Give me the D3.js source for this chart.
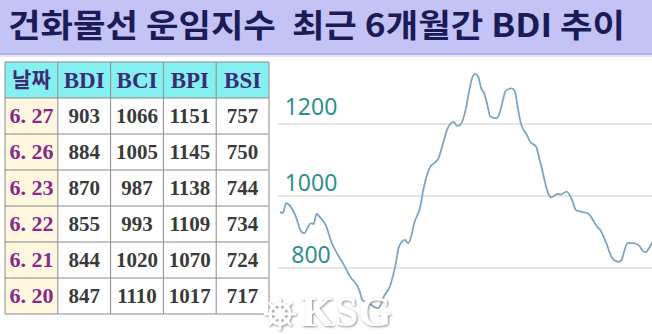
<!DOCTYPE html>
<html>
<head>
<meta charset="utf-8">
<script src="https://cdn.jsdelivr.net/npm/d3@7"></script>
<style>
  html, body { margin: 0; padding: 0; background: #ffffff; }
  svg { display: block; }
</style>
</head>
<body>
<svg id="chart" width="652" height="334"></svg>
<script>
// ---------- data ----------
const title = "건화물선 운임지수  최근 6개월간 BDI 추이";
const tableHeader = ["날짜", "BDI", "BCI", "BPI", "BSI"];
const dates = ["6. 27", "6. 26", "6. 23", "6. 22", "6. 21", "6. 20"];
const bdiTable = [903, 884, 870, 855, 844, 847];
const bciTable = [1066, 1005, 987, 993, 1020, 1110];
const bpiTable = [1151, 1145, 1138, 1109, 1070, 1017];
const bsiTable = [757, 750, 744, 734, 724, 717];

// BDI trend over ~6 months (trading-day index, value)
const days = [0,1,2,3,5,7,8,9,10,11,12,13,15,17,19,21,23,26,27,28,30,32,33,34,36,37,38,39,41,42,43,44,46,47,49,52,53,55,57,58,59,61,62,63,64,65,66,67,68,69,71,72,73,74,76,77,78,79,81,82,84,85,86,87,88,89,91,92,94,96,97,99,101,102,104,105,107,109,111,112,113,114,116,118,119,120,121,122,123,124];
const bdi  = [956,953,980,975,947,901,896,910,924,922,950,942,919,869,836,808,776,739,711,706,697,688,697,720,748,776,813,859,878,869,887,924,970,1017,1077,1105,1132,1188,1206,1195,1197,1244,1290,1327,1339,1331,1299,1285,1253,1220,1216,1230,1262,1292,1299,1292,1244,1202,1169,1151,1137,1105,1072,1035,1006,996,1006,1004,1012,984,961,956,952,942,915,906,869,827,817,822,850,869,869,860,847,844,855,870,884,903];
const yTicks = [800, 1000, 1200];

// ---------- drawing ----------
const svg = d3.select("#chart");

// title band
svg.append("rect").attr("x", 0).attr("y", 0).attr("width", 652).attr("height", 53)
  .attr("fill", "#c3c3f5");
svg.append("rect").attr("x", 0).attr("y", 53).attr("width", 652).attr("height", 2)
  .attr("fill", "#b6b6e6");
svg.append("rect").attr("x", 0).attr("y", 55).attr("width", 652).attr("height", 2)
  .attr("fill", "#e4e4fa");
svg.append("text")
  .attr("x", 8).attr("y", 37)
  .attr("textLength", 617).attr("lengthAdjust", "spacingAndGlyphs")
  .attr("font-family", "'Noto Sans CJK KR', 'Noto Sans', sans-serif")
  .attr("font-weight", 700).attr("font-size", 32)
  .attr("fill", "#1b1b57")
  .style("white-space", "pre")
  .text(title);

// ---------- line chart ----------
const x = d3.scaleLinear().domain([0, 122]).range([280, 652]);
const y = d3.scaleLinear().domain([800, 1200]).range([268, 124]);

const chart = svg.append("g");
chart.selectAll("line.grid").data(yTicks).join("line")
  .attr("class", "grid")
  .attr("x1", 278).attr("x2", 652)
  .attr("y1", d => y(d)).attr("y2", d => y(d))
  .attr("stroke", "#dedede").attr("stroke-width", 1.3);

chart.selectAll("text.tick").data(yTicks).join("text")
  .attr("class", "tick")
  .attr("x", 311)
  .attr("y", d => y(d) - (d === 1200 ? 9 : 5))
  .attr("text-anchor", "middle")
  .attr("font-family", "'Noto Sans', 'Open Sans', sans-serif")
  .attr("font-size", 23)
  .attr("fill", "#2f8f8f")
  .text(d => d);

const series = days.map((d, i) => ({ d, v: bdi[i] }));
const lineGen = d3.line().x(p => x(p.d)).y(p => y(p.v)).curve(d3.curveMonotoneX);
chart.append("path")
  .datum(series)
  .attr("d", lineGen)
  .attr("fill", "none")
  .attr("stroke", "#7ea4c4")
  .attr("stroke-width", 1.8)
  .attr("stroke-linejoin", "round");

// ---------- table ----------
const rowsData = dates.map((dt, i) => [dt, bdiTable[i], bciTable[i], bpiTable[i], bsiTable[i]]);
const colX = d3.scaleBand().domain(d3.range(5)).range([5, 269]).padding(0);
const rowY = d3.scaleBand().domain(d3.range(7)).range([62, 314]).padding(0);

const table = svg.append("g");
// header cells
table.selectAll("rect.hdr").data(tableHeader).join("rect")
  .attr("class", "hdr")
  .attr("x", (d, i) => colX(i)).attr("y", rowY(0))
  .attr("width", colX.bandwidth()).attr("height", rowY.bandwidth())
  .attr("fill", "#85f0f0");
// date column cells
table.selectAll("rect.date").data(dates).join("rect")
  .attr("class", "date")
  .attr("x", colX(0)).attr("y", (d, i) => rowY(i + 1))
  .attr("width", colX.bandwidth()).attr("height", rowY.bandwidth())
  .attr("fill", "#fff6df");
// grid lines
table.selectAll("line.h").data(d3.range(8)).join("line")
  .attr("class", "h")
  .attr("x1", 5).attr("x2", 269)
  .attr("y1", i => 62 + i * rowY.step()).attr("y2", i => 62 + i * rowY.step())
  .attr("stroke", "#8a8a8a").attr("stroke-width", 1);
table.selectAll("line.v").data(d3.range(6)).join("line")
  .attr("class", "v")
  .attr("x1", i => 5 + i * colX.step()).attr("x2", i => 5 + i * colX.step())
  .attr("y1", 62).attr("y2", 314)
  .attr("stroke", "#8a8a8a").attr("stroke-width", 1);

// header text
table.selectAll("text.hdr").data(tableHeader).join("text")
  .attr("class", "hdr")
  .attr("x", (d, i) => colX(i) + colX.bandwidth() / 2)
  .attr("y", (d, i) => rowY(0) + rowY.bandwidth() / 2 + (i === 0 ? 7 : 8))
  .attr("text-anchor", "middle")
  .attr("font-family", (d, i) => i === 0 ? "'Noto Sans CJK KR', sans-serif" : "'Liberation Serif', 'Times New Roman', serif")
  .attr("font-weight", 700)
  .attr("font-size", (d, i) => i === 0 ? 21 : 23)
  .attr("fill", "#3b2c78")
  .text(d => d);

// body text
const rowsG = table.selectAll("g.row").data(rowsData).join("g").attr("class", "row");
rowsG.selectAll("text").data(d => d).join("text")
  .attr("x", (d, i) => colX(i) + colX.bandwidth() / 2)
  .attr("y", function() {
    const r = rowsData.indexOf(d3.select(this.parentNode).datum());
    return rowY(r + 1) + rowY.bandwidth() / 2 + 7;
  })
  .attr("text-anchor", "middle")
  .attr("font-family", "'Liberation Serif', 'Times New Roman', serif")
  .attr("font-weight", 700)
  .attr("font-size", (d, i) => i === 0 ? 22 : 21)
  .attr("fill", (d, i) => i === 0 ? "#862a8a" : "#3a3a3a")
  .text(d => d);

// ---------- watermark ----------
const defs = svg.append("defs");
const f = defs.append("filter").attr("id", "sh").attr("x", "-20%").attr("y", "-20%").attr("width", "140%").attr("height", "140%");
f.append("feDropShadow").attr("dx", 1).attr("dy", 1).attr("stdDeviation", 1)
  .attr("flood-color", "#777777").attr("flood-opacity", 0.85);

const wm = svg.append("g").attr("filter", "url(#sh)");
wm.append("text")
  .attr("x", 301).attr("y", 326)
  .attr("font-family", "'Liberation Serif', 'Times New Roman', serif")
  .attr("font-weight", 700).attr("font-size", 43)
  .attr("fill", "#ffffff")
  .text("KSG");
const wheel = wm.append("g").attr("transform", "translate(280,314)");
wheel.append("circle").attr("r", 10).attr("fill", "none").attr("stroke", "#ffffff").attr("stroke-width", 3);
wheel.append("circle").attr("r", 4.5).attr("fill", "none").attr("stroke", "#ffffff").attr("stroke-width", 2);
wheel.selectAll("line").data(d3.range(8)).join("line")
  .attr("x1", 0).attr("y1", 0)
  .attr("x2", i => 16 * Math.cos(i * Math.PI / 4))
  .attr("y2", i => 16 * Math.sin(i * Math.PI / 4))
  .attr("stroke", "#ffffff").attr("stroke-width", 2.5);
</script>
</body>
</html>
